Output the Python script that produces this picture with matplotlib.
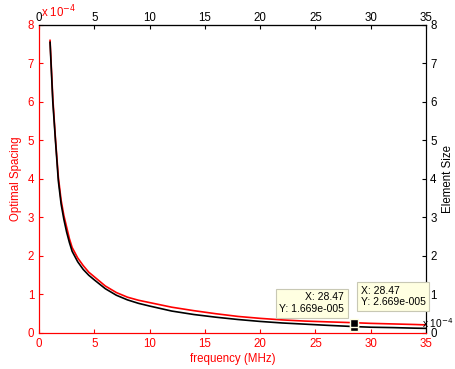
import matplotlib
matplotlib.use("Agg")
import matplotlib.pyplot as plt

# frequency (MHz) and curves, values in units of 1e-4
freq = [1.0, 1.25, 1.5, 1.75, 2.0, 2.25, 2.5, 2.75, 3.0, 3.5, 4.0, 4.5, 5, 6, 7, 8, 9,
        10, 12, 14, 16, 18, 20, 22, 24, 26, 28.47, 30, 32, 34, 35]
spacing = [7.6, 6.1, 5.0, 4.05, 3.45, 3.05, 2.75, 2.45, 2.22, 1.95, 1.75, 1.58, 1.46,
           1.22, 1.05, 0.93, 0.85, 0.79, 0.67, 0.58, 0.50, 0.43, 0.38, 0.34, 0.31,
           0.29, 0.267, 0.25, 0.235, 0.22, 0.21]
elem_size = [7.55, 6.0, 4.95, 3.95, 3.35, 2.95, 2.62, 2.35, 2.12, 1.85, 1.65, 1.5, 1.38,
             1.15, 0.98, 0.86, 0.77, 0.70, 0.57, 0.48, 0.41, 0.35, 0.30, 0.26, 0.23,
             0.20, 0.1669, 0.15, 0.14, 0.125, 0.12]
tip_x = 28.47
tip_black = 0.1669
tip_red = 0.2669
xticks = [0, 5, 10, 15, 20, 25, 30, 35]
yticks = [0, 1, 2, 3, 4, 5, 6, 7, 8]

plt.rcParams['font.family'] = ['Liberation Sans', 'DejaVu Sans']
fs = 8.3

fig = plt.figure(figsize=(4.55, 3.69), dpi=100)
ax = fig.add_axes([0.0857, 0.0976, 0.8505, 0.8347])
ax.plot(freq, spacing, color='red', lw=1.2)
ax.set_xlim(0, 35)
ax.set_ylim(0, 8)
ax.set_xticks(xticks)
ax.set_yticks(yticks)
ax.tick_params(direction='in', colors='red', labelsize=fs, length=3, top=False)
ax.spines['left'].set_color('red')
ax.spines['bottom'].set_color('red')
ax.spines['top'].set_color('black')
ax.spines['right'].set_color('black')
ax.set_xlabel('frequency (MHz)', color='red', fontsize=fs, labelpad=2)
ax.set_ylabel('Optimal Spacing', color='red', fontsize=fs, labelpad=4)
ax.text(0.005, 1.015, r'x 10$^{-4}$', transform=ax.transAxes, color='red',
        fontsize=fs, va='bottom', ha='left')

top = ax.secondary_xaxis('top')
top.set_xticks(xticks)
top.tick_params(direction='in', colors='black', labelsize=fs, length=3, pad=1)
top.spines['top'].set_color('black')

ax2 = ax.twinx()
ax2.plot(freq, elem_size, color='black', lw=1.2)
ax2.set_ylim(0, 8)
ax2.set_yticks(yticks)
ax2.tick_params(direction='in', colors='black', labelsize=fs, length=3, pad=3)
ax2.spines['left'].set_color('red')
ax2.spines['bottom'].set_color('red')
ax2.set_ylabel('Element Size', color='black', fontsize=fs, labelpad=4)
fig.text(0.997, 0.1255, r'x 10$^{-4}$', color='black',
         fontsize=7.3, va='center', ha='right')

# data tips
box = dict(boxstyle='square,pad=0.35', fc='#ffffe1', ec='#c8c8b4', lw=0.8)
ax2.plot([tip_x, tip_x], [tip_black, tip_red], ls='none', marker='s', ms=6,
         mfc='black', mec='#ffffe1', mew=1.0, zorder=5)
ax2.annotate('X: %.2f\nY: %.3fe-005' % (tip_x, tip_black * 10),
             xy=(tip_x, tip_black), xytext=(-7, 9), textcoords='offset points',
             ha='right', va='bottom', fontsize=7.5, multialignment='right', bbox=box,
             zorder=6)
ax2.annotate('X: %.2f\nY: %.3fe-005' % (tip_x, tip_red * 10),
             xy=(tip_x, tip_red), xytext=(5, 11), textcoords='offset points',
             ha='left', va='bottom', fontsize=7.5, multialignment='left', bbox=box,
             zorder=6)

fig.savefig('out.png', dpi=100)
